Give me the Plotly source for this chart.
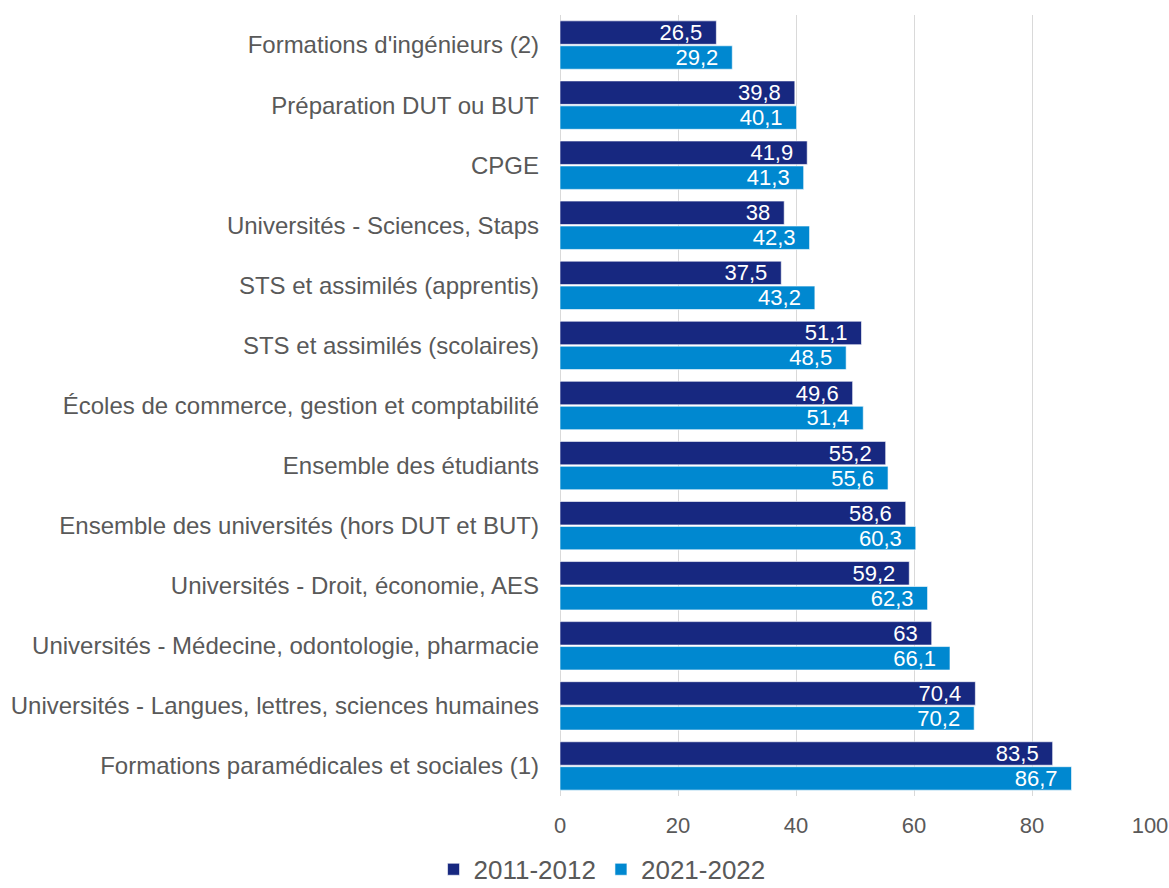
import plotly.graph_objects as go

categories = [
    "Formations d'ingénieurs (2)",
    "Préparation DUT ou BUT",
    "CPGE",
    "Universités - Sciences, Staps",
    "STS et assimilés (apprentis)",
    "STS et assimilés (scolaires)",
    "Écoles de commerce, gestion et comptabilité",
    "Ensemble des étudiants",
    "Ensemble des universités (hors DUT et BUT)",
    "Universités - Droit, économie, AES",
    "Universités - Médecine, odontologie, pharmacie",
    "Universités - Langues, lettres, sciences humaines",
    "Formations paramédicales et sociales (1)",
]
values_2011 = [26.5, 39.8, 41.9, 38, 37.5, 51.1, 49.6, 55.2, 58.6, 59.2, 63, 70.4, 83.5]
values_2021 = [29.2, 40.1, 41.3, 42.3, 43.2, 48.5, 51.4, 55.6, 60.3, 62.3, 66.1, 70.2, 86.7]
series_names = ["2011-2012", "2021-2022"]
tick_values = [0, 20, 40, 60, 80, 100]

colors = ["#172880", "#0088d0"]


def fmt(v):
    s = ("%g" % v).replace(".", ",")
    return s + "\u2002"


fig = go.Figure()
for name, vals, col in zip(series_names, [values_2011, values_2021], colors):
    fig.add_trace(go.Bar(
        y=categories, x=vals, orientation="h", name=name,
        marker=dict(color=col, line=dict(color="rgba(255,255,255,0.6)", width=1)),
        text=[fmt(v) for v in vals],
        textposition="inside", insidetextanchor="end", textangle=0,
        insidetextfont=dict(color="white", size=22, family="Liberation Sans, Arial"),
    ))

fig.update_layout(
    width=1169, height=888,
    barmode="group", bargap=0.17, bargroupgap=0.06,
    paper_bgcolor="white", plot_bgcolor="white",
    margin=dict(l=560, r=19, t=15, b=92),
    font=dict(family="Liberation Sans, Arial", color="#595959", size=24),
    uniformtext=dict(minsize=22, mode="show"),
    legend=dict(orientation="h", xref="container", yref="container",
                x=0.515, xanchor="center", y=0.021, yanchor="middle",
                font=dict(size=26, color="#595959"), traceorder="normal",
                itemwidth=30),
    xaxis=dict(range=[0, 100], tickvals=tick_values, showgrid=True,
               gridcolor="#d9d9d9", gridwidth=1, zeroline=True,
               zerolinecolor="#d9d9d9", zerolinewidth=1,
               tickfont=dict(size=22, color="#595959"), ticks="",
               ticklabelstandoff=14,
               automargin=False, fixedrange=True),
    yaxis=dict(autorange="reversed", showgrid=False, ticks="",
               ticklabelstandoff=20,
               tickfont=dict(size=24, color="#595959"), automargin=False),
)

fig.write_html(
    "out.html",
    config={"displayModeBar": False},
    post_script="document.body.style.margin='0';document.body.style.overflow='hidden';",
)
